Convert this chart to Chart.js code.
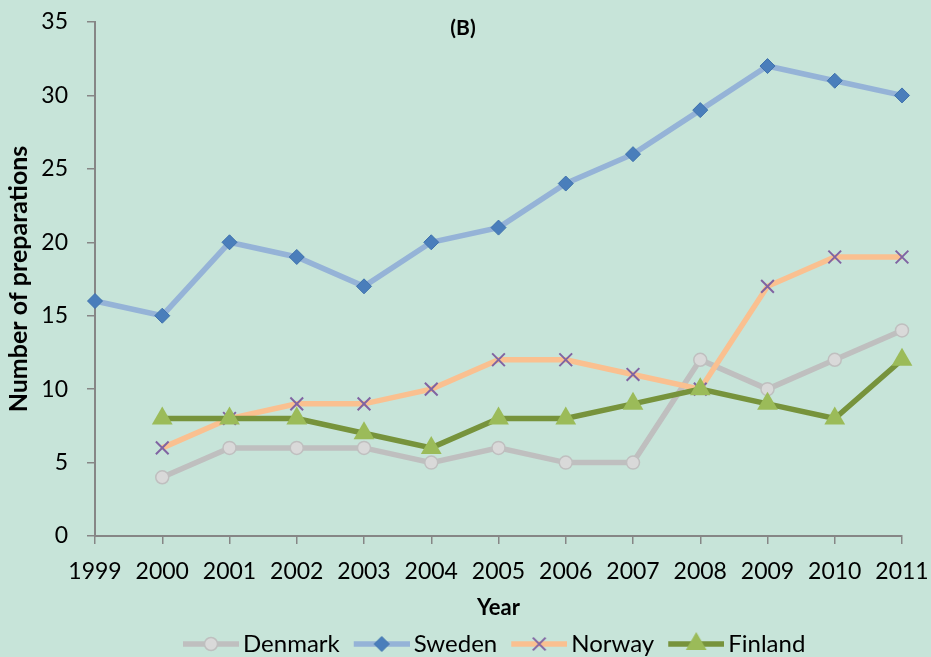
<!DOCTYPE html>
<html><head><meta charset="utf-8">
<script src="https://cdn.jsdelivr.net/npm/chart.js@4"></script>
<style>html,body{margin:0;padding:0;background:#c7e4d9;overflow:hidden}#wrap{width:931px;height:657px}</style>
</head><body><div id="wrap"><canvas id="c" width="931" height="657"></canvas></div>
<script>
const years = ['1999','2000','2001','2002','2003','2004','2005','2006','2007','2008','2009','2010','2011'];
const denmark = [null,4,6,6,6,5,6,5,5,12,10,12,14];
const sweden  = [16,15,20,19,17,20,21,24,26,29,32,31,30];
const norway  = [null,6,8,9,9,10,12,12,11,10,17,19,19];
const finland = [null,8,8,8,7,6,8,8,9,10,9,8,12];
const seriesNames = ['Denmark','Sweden','Norway','Finland'];
const chartTitle = '(B)';
const xTitle = 'Year';
const yTitle = 'Number of preparations';

const BG = '#c7e4d9';
const AXIS = '#868686';
const FONT = 'Lato';

const styles = [
  {line:'#bfbfbf', point:'circle',   r:6.5, fill:'#d9d9d9', border:'#bfbfbf', bw:1.5},
  {line:'#95b3d7', point:'rectRot',  r:7.5, fill:'#4a7ebb', border:'#3f72ad', bw:1},
  {line:'#fac090', point:'crossRot', r:9,   fill:'#8064a2', border:'#8064a2', bw:2},
  {line:'#77933c', point:'triangle', r:12,  fill:'#9bbb59', border:'#9bbb59', bw:0}
];
const values = [denmark, sweden, norway, finland];
const orders = [3,2,1,0];

const LEG_FS = 24, LEG_PAD = 4, LEG_BOX = 58, SYM_W = 74, SYM_A = 18;

function symbol(i){
  const s = styles[i];
  const c = document.createElement('canvas');
  c.width = SYM_W; c.height = 30;
  const g = c.getContext('2d');
  g.strokeStyle = s.line; g.lineWidth = 5.5;
  g.beginPath(); g.moveTo(SYM_A,15); g.lineTo(SYM_W,15); g.stroke();
  g.fillStyle = s.fill; g.strokeStyle = s.border; g.lineWidth = s.bw || 0.001;
  Chart.helpers.drawPoint(g, {pointStyle:s.point, radius:s.r, rotation:0, borderWidth:s.bw}, (SYM_A+SYM_W)/2, 15);
  return c;
}

const bgPlugin = {
  id:'bg',
  beforeDraw(chart){
    const ctx = chart.ctx;
    ctx.save(); ctx.fillStyle = BG; ctx.fillRect(0,0,chart.width,chart.height); ctx.restore();
    const lg = chart.legend;
    if (lg && lg.lineWidths) {
      const p = lg.options.labels.padding;
      const start = (lg.left + p + lg.right - lg.lineWidths[0]) / 2;
      const delta = 173 - start;
      lg.left += delta; lg.right += delta;
      const h = lg.bottom - lg.top;
      lg.top = 644 - p - LEG_FS/2; lg.bottom = lg.top + h;
    }
  },
  afterDraw(chart){
    const ctx = chart.ctx;
    ctx.save();
    ctx.font = 'bold 21px ' + FONT;
    ctx.fillStyle = '#000'; ctx.textAlign = 'center'; ctx.textBaseline = 'middle';
    ctx.fillText(chartTitle, 463, 28);
    ctx.restore();
  }
};

Chart.defaults.color = '#000';
Chart.defaults.font.family = FONT;

const datasets = seriesNames.map((n,i)=>({
  label:n, data:values[i], order:orders[i],
  borderColor:styles[i].line, borderWidth:5.5, backgroundColor:styles[i].fill,
  pointStyle:styles[i].point, pointRadius:styles[i].r, pointHoverRadius:styles[i].r,
  pointBackgroundColor:styles[i].fill, pointBorderColor:styles[i].border, pointBorderWidth:styles[i].bw,
  tension:0, fill:false, clip:false, spanGaps:false
}));

new Chart(document.getElementById('c'), {
  type:'line',
  data:{labels:years, datasets},
  options:{
    responsive:false, animation:false, devicePixelRatio:1,
    layout:{padding:{top:22,right:29,bottom:0,left:0}},
    plugins:{
      tooltip:{enabled:false},
      title:{display:false},
      legend:{
        position:'bottom',
        labels:{
          usePointStyle:true, pointStyleWidth:LEG_BOX, padding:LEG_PAD,
          font:{size:LEG_FS, family:FONT}, color:'#000',
          generateLabels(chart){
            return seriesNames.map((n,i)=>({text:n, pointStyle:symbol(i), datasetIndex:i, hidden:false, fillStyle:styles[i].line, strokeStyle:styles[i].line, lineWidth:0, fontColor:'#000'}));
          }
        }
      }
    },
    scales:{
      x:{
        type:'category', offset:false,
        grid:{display:true, drawOnChartArea:false, drawTicks:true, tickLength:8, tickColor:AXIS, lineWidth:1.5},
        border:{display:true, color:AXIS, width:2},
        ticks:{font:{size:23}, color:'#000', padding:14, maxRotation:0, autoSkip:false},
        title:{display:true, text:xTitle, font:{size:22, weight:'bold'}, color:'#000', padding:{top:0,bottom:-2}},
        afterFit(s){ s.height = 83; s.paddingLeft = 0; s.paddingRight = 0; }
      },
      y:{
        min:0, max:35,
        grid:{display:true, drawOnChartArea:false, drawTicks:true, tickLength:8, tickColor:AXIS, lineWidth:1.5},
        border:{display:true, color:AXIS, width:2},
        ticks:{stepSize:5, font:{size:23}, color:'#000', padding:19},
        title:{display:true, text:yTitle, font:{size:25, weight:'bold'}, color:'#000', padding:{top:4,bottom:0}},
        afterFit(s){ s.width = 95; s.paddingTop = 0; s.paddingBottom = 0; }
      }
    }
  },
  plugins:[bgPlugin]
});
</script></body></html>
